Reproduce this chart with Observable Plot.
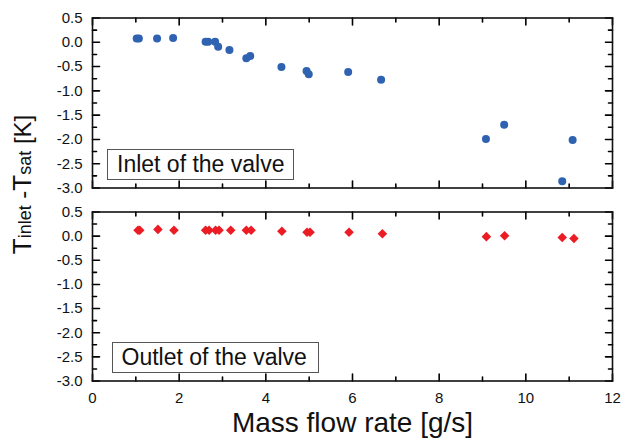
<!DOCTYPE html>
<html>
<head>
<meta charset="utf-8">
<script src="https://cdn.jsdelivr.net/npm/d3@7"></script>
<script src="https://cdn.jsdelivr.net/npm/@observablehq/plot@0.6"></script>
<style>
  html, body { margin: 0; padding: 0; background: #fff; }
  #wrap { position: relative; width: 622px; height: 448px; font-family: "Liberation Sans", Arial, sans-serif; overflow: hidden; }
  #wrap svg { position: absolute; left: 0; }
  .lgd { position: absolute; box-sizing: border-box; border: 1px solid #555; background: #fff; font-size: 23px; color: #111; white-space: nowrap; padding-left: 9px; }
  #ylab { position: absolute; white-space: nowrap; color: #111; font-size: 24px; transform-origin: center center; }
</style>
</head>
<body>
<div id="wrap"></div>
<script>
// Inlet of the valve (top panel)
const inletX = [1.02, 1.07, 1.49, 1.86, 2.61, 2.67, 2.83, 2.90, 3.16, 3.55, 3.64, 4.36, 4.94, 4.99, 5.90, 6.66, 9.08, 9.50, 10.84, 11.08];
const inletY = [0.08, 0.08, 0.08, 0.09, 0.01, 0.01, 0.01, -0.09, -0.16, -0.33, -0.28, -0.51, -0.59, -0.66, -0.61, -0.77, -1.99, -1.70, -2.86, -2.01];
// Outlet of the valve (bottom panel)
const outletX = [1.05, 1.09, 1.51, 1.88, 2.61, 2.69, 2.84, 2.92, 3.19, 3.55, 3.66, 4.37, 4.95, 5.02, 5.92, 6.69, 9.09, 9.51, 10.84, 11.11];
const outletY = [0.12, 0.12, 0.14, 0.12, 0.12, 0.12, 0.12, 0.12, 0.12, 0.12, 0.12, 0.10, 0.08, 0.08, 0.08, 0.05, -0.01, 0.01, -0.03, -0.05];

const xTicks = [0, 2, 4, 6, 8, 10, 12];
const xMinor = [1, 3, 5, 7, 9, 11];
const yTicks = [-3.0, -2.5, -2.0, -1.5, -1.0, -0.5, 0.0, 0.5];
const yMinor = [-2.75, -2.25, -1.75, -1.25, -0.75, -0.25, 0.25];
const xLabel = "Mass flow rate [g/s]";
const panelLabels = ["Inlet of the valve", "Outlet of the valve"];

const W = 622, ML = 92, MR = 10;

// straight-line shape for inward tick marks
const lineShape = {draw(context, l) { context.moveTo(0, 0); context.lineTo(0, -l); }};

function ticks(values, ch, frameAnchor, rotate, length) {
  return Plot.vector(values, {[ch]: d => d, frameAnchor, rotate, length, anchor: "start",
    shape: lineShape, stroke: "#000", strokeWidth: 1.6});
}

function panel({xs, ys, color, symbol, r, height, mt, mb, showX}) {
  const data = xs.map((x, i) => ({x, y: ys[i]}));
  const marks = [
    ticks(xTicks, "x", "bottom", 0, 7),
    ticks(xMinor, "x", "bottom", 0, 4),
    ticks(xTicks, "x", "top", 180, 7),
    ticks(xMinor, "x", "top", 180, 4),
    ticks(yTicks, "y", "left", 90, 7),
    ticks(yMinor, "y", "left", 90, 4),
    ticks(yTicks, "y", "right", -90, 7),
    ticks(yMinor, "y", "right", -90, 4),
    Plot.frame({stroke: "#111", strokeWidth: 1.6}),
    Plot.axisY({ticks: yTicks, tickSize: 0, tickPadding: 10, label: null, tickFormat: d => d.toFixed(1), fontSize: 15, fill: "#111"}),
    Plot.dot(data, {x: "x", y: "y", r, symbol, fill: color, stroke: "none"})
  ];
  if (showX) {
    marks.push(Plot.axisX({ticks: xTicks, tickSize: 0, tickPadding: 11, label: null, tickFormat: d => String(d), fontSize: 15, fill: "#111"}));
    marks.push(Plot.text([xLabel], {text: d => d, frameAnchor: "bottom", dy: 50.5, fontSize: 28, fill: "#111"}));
  }
  return Plot.plot({
    width: W, height,
    marginLeft: ML, marginRight: MR, marginTop: mt, marginBottom: mb,
    style: {fontFamily: "'Liberation Sans', Arial, sans-serif", background: "transparent", overflow: "visible"},
    x: {domain: [0, 12], axis: showX ? undefined : null},
    y: {domain: [-3, 0.5]},
    marks
  });
}

const wrapEl = document.getElementById("wrap");
const topPanel = panel({xs: inletX, ys: inletY, color: "#2f62b1", symbol: "circle", r: 4, height: 200, mt: 17.5, mb: 12.5, showX: false});
topPanel.style.top = "0px";
wrapEl.appendChild(topPanel);
const botPanel = panel({xs: outletX, ys: outletY, color: "#ec1c24", symbol: "diamond2", r: 4.3, height: 254, mt: 17.5, mb: 67.5, showX: true});
botPanel.style.top = "194px";
wrapEl.appendChild(botPanel);

function legend(text, left, topPx, w, h) {
  const d = document.createElement("div");
  d.className = "lgd";
  d.style.left = left + "px"; d.style.top = topPx + "px";
  d.style.width = w + "px"; d.style.height = h + "px";
  d.style.lineHeight = (h - 2) + "px";
  d.textContent = text;
  wrapEl.appendChild(d);
}
legend(panelLabels[0], 107, 148.5, 187, 31.5);
legend(panelLabels[1], 111.5, 341.5, 207, 31.5);

const yl = document.createElement("div");
yl.id = "ylab";
yl.innerHTML = '<span style="font-size:26px">T</span><span style="font-size:18px">inlet</span> -<span style="font-size:26px">T</span><span style="font-size:18px">sat</span> [K]';
wrapEl.appendChild(yl);
const rect = yl.getBoundingClientRect();
yl.style.left = (23 - rect.width / 2) + "px";
yl.style.top = (184 - rect.height / 2) + "px";
yl.style.transform = "rotate(-90deg)";
</script>
</body>
</html>
